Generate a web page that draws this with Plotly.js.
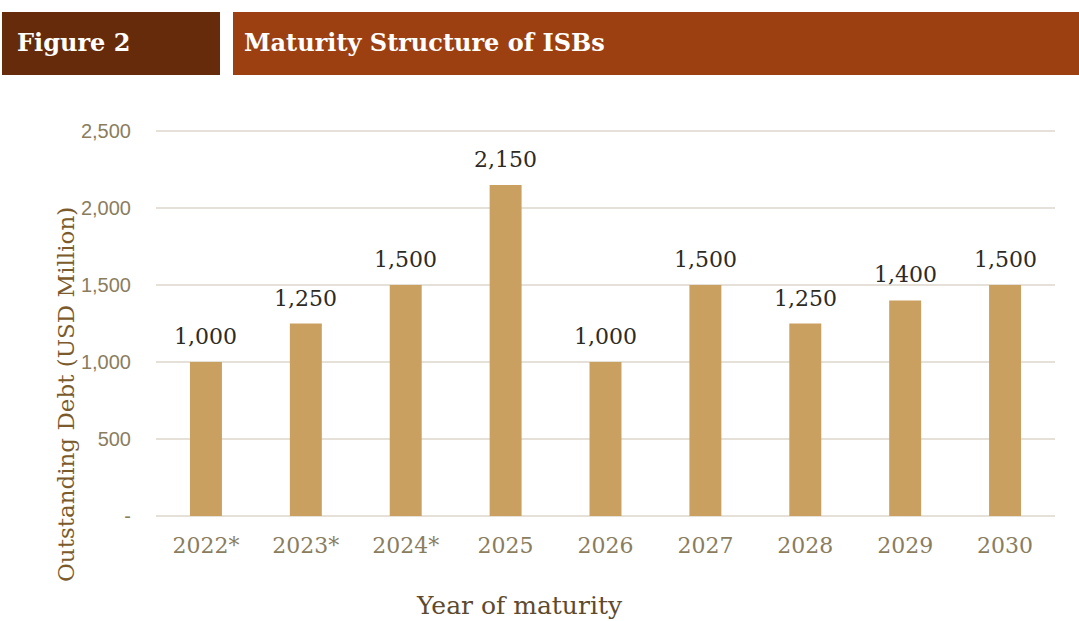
<!DOCTYPE html>
<html><head><meta charset="utf-8">
<script src="https://cdn.plot.ly/plotly-3.0.1.min.js"></script>
<style>html,body{margin:0;padding:0;background:#fff}#chart{width:1079px;height:621px}</style>
</head><body><div id="chart"></div>
<script>
const years = ["2022*","2023*","2024*","2025","2026","2027","2028","2029","2030"];
const debt = [1000,1250,1500,2150,1000,1500,1250,1400,1500];
const yTickVals = [0,500,1000,1500,2000,2500];
const yTickText = ["-","500","1,000","1,500","2,000","2,500"];
const figLabel = "Figure 2";
const figTitle = "Maturity Structure of ISBs";
const yTitle = "Outstanding Debt (USD Million)";
const xTitle = "Year of maturity";

const W = 1079, H = 621, L = 156, R = 24, T = 129, B = 105;
const pw = W - L - R, ph = H - T - B;
const px = x => (x - L) / pw;
const py = y => (H - B - y) / ph;

const serif = "DejaVu Serif, Liberation Serif, serif";

const trace = {
  type: "bar", x: years, y: debt,
  marker: {color: "#c9a060"},
  width: 0.32,
  hoverinfo: "none"
};

const labelAnns = years.map((yr, i) => ({
  x: i, y: debt[i], xref: "x", yref: "y",
  text: debt[i].toLocaleString("en-US"),
  showarrow: false, xanchor: "center", yanchor: "bottom", yshift: 11,
  font: {family: serif, size: 22, color: "#2e2a24"}
}));

const layout = {
  width: W, height: H,
  margin: {l: L, r: R, t: T, b: B},
  paper_bgcolor: "#fff", plot_bgcolor: "#fff",
  showlegend: false,
  xaxis: {
    type: "category", categoryarray: years, categoryorder: "array",
    range: [-0.5, years.length - 0.5],
    showgrid: false, zeroline: false, showline: false,
    ticks: "", tickfont: {family: serif, size: 22, color: "#8a7d5e"},
    ticklabelstandoff: 14
  },
  yaxis: {
    range: [0, 2513], tickvals: yTickVals, ticktext: yTickText,
    showgrid: true, gridcolor: "#e6e1d8", gridwidth: 2,
    zeroline: true, zerolinecolor: "#e6e1d8", zerolinewidth: 2,
    ticks: "", tickfont: {family: "Liberation Sans, Arial, sans-serif", size: 20, color: "#8a7d5e"},
    ticklabelstandoff: 24
  },
  shapes: [
    {type: "rect", xref: "paper", yref: "paper", x0: px(2), x1: px(220), y0: py(75), y1: py(12), fillcolor: "#652b0b", line: {width: 0}},
    {type: "rect", xref: "paper", yref: "paper", x0: px(233), x1: px(1079), y0: py(75), y1: py(12), fillcolor: "#9c4012", line: {width: 0}}
  ],
  annotations: [
    {text: "<b>" + figLabel + "</b>", xref: "paper", yref: "paper", x: px(15), y: py(43), xanchor: "left", yanchor: "middle", showarrow: false, font: {family: serif, size: 24, color: "#fff"}},
    {text: "<b>" + figTitle + "</b>", xref: "paper", yref: "paper", x: px(242), y: py(43), xanchor: "left", yanchor: "middle", showarrow: false, font: {family: serif, size: 24, color: "#fff"}},
    {text: yTitle, xref: "paper", yref: "paper", x: px(66), y: py(395), xanchor: "center", yanchor: "middle", textangle: -90, showarrow: false, font: {family: serif, size: 23, color: "#7b5a2c"}},
    {text: xTitle, xref: "paper", yref: "paper", x: px(519), y: py(605), xanchor: "center", yanchor: "middle", showarrow: false, font: {family: serif, size: 25, color: "#5e4a2e"}}
  ].concat(labelAnns)
};

Plotly.newPlot("chart", [trace], layout, {displayModeBar: false, staticPlot: true});
</script></body></html>
